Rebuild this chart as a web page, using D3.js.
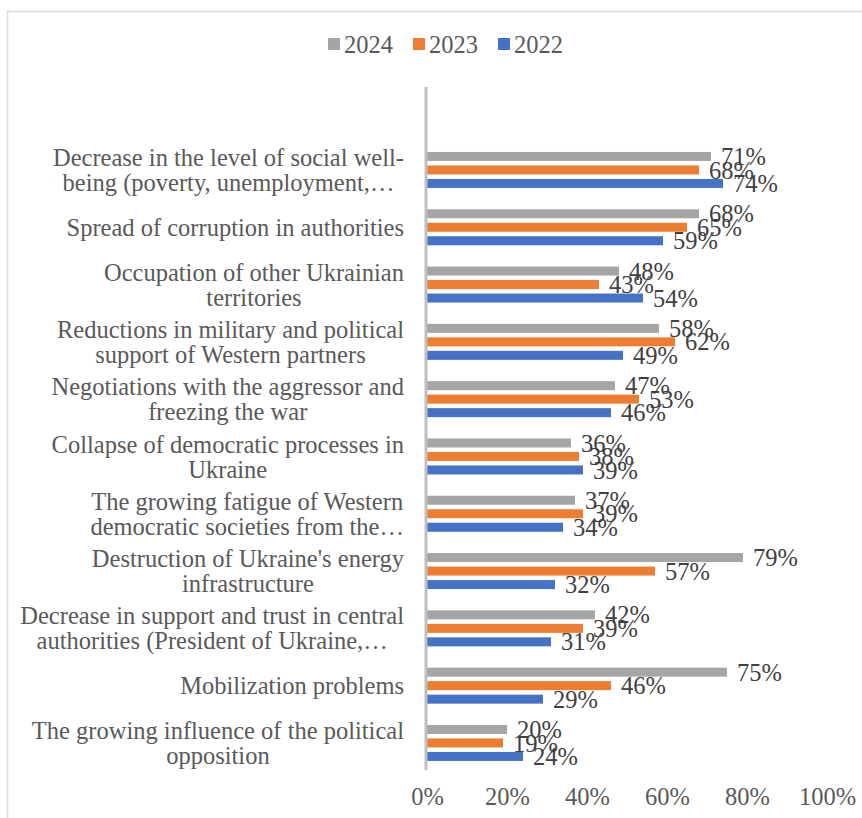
<!DOCTYPE html>
<html>
<head>
<meta charset="utf-8">
<script src="https://cdn.jsdelivr.net/npm/d3@7"></script>
<style>
  html, body { margin: 0; padding: 0; background: #fff; }
  svg { display: block; }
</style>
</head>
<body>
<div id="chart"></div>
<script>
// Threat categories, top to bottom; each label is pre-split into its display lines
const categories = [
  ["Decrease in the level of social well-", "being (poverty, unemployment,…"],
  ["Spread of corruption in authorities"],
  ["Occupation of other Ukrainian", "territories"],
  ["Reductions in military and political", "support of Western partners"],
  ["Negotiations with the aggressor and", "freezing the war"],
  ["Collapse of democratic processes in", "Ukraine"],
  ["The growing fatigue of Western", "democratic societies from the…"],
  ["Destruction of Ukraine's energy", "infrastructure"],
  ["Decrease in support and trust in central", "authorities (President of Ukraine,…"],
  ["Mobilization problems"],
  ["The growing influence of the political", "opposition"]
];

const seriesNames = ["2024", "2023", "2022"];
const values2024 = [71, 68, 48, 58, 47, 36, 37, 79, 42, 75, 20];
const values2023 = [68, 65, 43, 62, 53, 38, 39, 57, 39, 46, 19];
const values2022 = [74, 59, 54, 49, 46, 39, 34, 32, 31, 29, 24];
const seriesColors = ["#a5a5a5", "#ed7d31", "#4472c4"];
const tickValues = [0, 20, 40, 60, 80, 100];

const seriesValues = [values2024, values2023, values2022];
const W = 862, H = 818;
const FONT = "'Times New Roman', 'Liberation Serif', serif";
const FS = 24.5;

const svg = d3.select("#chart").append("svg")
  .attr("width", W).attr("height", H);

svg.append("rect").attr("width", W).attr("height", H).attr("fill", "#fff");

// chart frame (left and top edges visible)
svg.append("path")
  .attr("d", `M7.5,${H} L7.5,11.5 L${W},11.5`)
  .attr("fill", "none").attr("stroke", "#d9d9d9").attr("stroke-width", 1.5);

const x = d3.scaleLinear().domain([0, 100]).range([427, 827]);
const catKeys = categories.map((_, i) => i);
const y = d3.scaleBand().domain(catKeys).range([141.3, 771.6]).padding(0);
const ySub = d3.scaleBand().domain(seriesNames).range([0, y.bandwidth()])
  .paddingInner(1 / 3).paddingOuter(0.789);

// bars
const rows = [];
catKeys.forEach(ci => seriesNames.forEach((s, si) => {
  rows.push({ ci, s, si, v: seriesValues[si][ci] });
}));

const g = svg.append("g");
g.selectAll("rect.bar").data(rows).join("rect")
  .attr("class", "bar")
  .attr("x", x(0))
  .attr("y", d => y(d.ci) + ySub(d.s))
  .attr("width", d => x(d.v) - x(0))
  .attr("height", ySub.bandwidth())
  .attr("fill", d => seriesColors[d.si]);

// value labels
g.selectAll("text.val").data(rows).join("text")
  .attr("class", "val")
  .attr("x", d => x(d.v) + 10)
  .attr("y", d => y(d.ci) + ySub(d.s) + ySub.bandwidth() / 2)
  .attr("dy", "0.35em")
  .attr("font-family", FONT).attr("font-size", FS)
  .attr("fill", "#404040")
  .text(d => d.v + "%");

// vertical category axis line
svg.append("line")
  .attr("x1", 426).attr("x2", 426)
  .attr("y1", 87).attr("y2", 770)
  .attr("stroke", "#bfbfbf").attr("stroke-width", 3);

// category labels: block right-aligned, lines centred within the block
const lineH = 25;
const labG = svg.append("g");
categories.forEach((lines, ci) => {
  const cy = y(ci) + y.bandwidth() / 2;
  const grp = labG.append("g");
  const texts = lines.map((t, li) => grp.append("text")
    .attr("font-family", FONT).attr("font-size", FS)
    .attr("fill", "#595959")
    .attr("text-anchor", "middle")
    .attr("y", cy + (li - (lines.length - 1) / 2) * lineH)
    .attr("dy", "0.35em")
    .text(t));
  const wMax = d3.max(texts, t => t.node().getComputedTextLength());
  texts.forEach(t => t.attr("x", 404 - wMax / 2));
});

// percentage axis
const xAxis = d3.axisBottom(x).tickValues(tickValues)
  .tickFormat(d => d + "%").tickSize(0).tickPadding(0);
const ax = svg.append("g").attr("transform", "translate(0,788)").call(xAxis);
ax.select(".domain").remove();
ax.selectAll("text")
  .attr("font-family", FONT).attr("font-size", FS)
  .attr("fill", "#595959");

// legend
const legendX = [328, 413, 498];
const leg = svg.append("g");
seriesNames.forEach((s, i) => {
  leg.append("rect")
    .attr("x", legendX[i]).attr("y", 38)
    .attr("width", 12).attr("height", 12)
    .attr("fill", seriesColors[i]);
  leg.append("text")
    .attr("x", legendX[i] + 16).attr("y", 44).attr("dy", "0.35em")
    .attr("font-family", FONT).attr("font-size", FS)
    .attr("fill", "#595959")
    .text(s);
});
</script>
</body>
</html>
